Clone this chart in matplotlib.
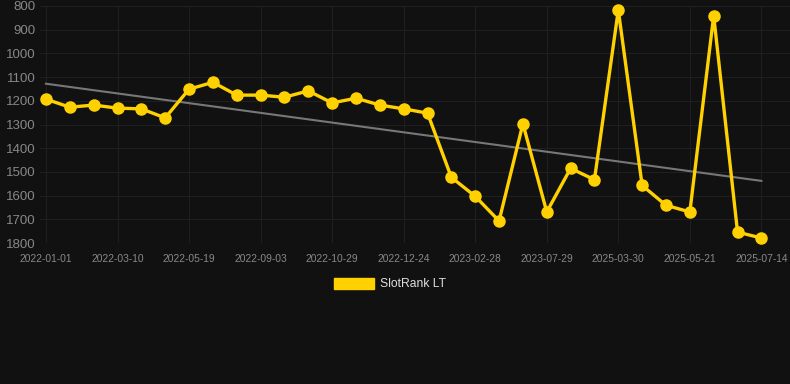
import numpy as np
import matplotlib
matplotlib.use("Agg")
import matplotlib.pyplot as plt
from matplotlib.patches import Patch

plt.rcParams['font.family'] = ['Liberation Sans', 'DejaVu Sans']

dates = ["2022-01-01", "", "", "2022-03-10", "", "", "2022-05-19", "", "",
         "2022-09-03", "", "", "2022-10-29", "", "", "2022-12-24", "", "",
         "2023-02-28", "", "", "2023-07-29", "", "", "2025-03-30", "", "",
         "2025-05-21", "", "", "2025-07-14"]
rank = [1193, 1227, 1218, 1231, 1234, 1272, 1151, 1122, 1176, 1176, 1185,
        1158, 1209, 1189, 1218, 1234, 1252, 1523, 1603, 1707, 1297, 1669,
        1485, 1533, 817, 1557, 1641, 1669, 841, 1754, 1779]
y_ticks = [800, 900, 1000, 1100, 1200, 1300, 1400, 1500, 1600, 1700, 1800]
series_name = "SlotRank LT"

bg = "#111111"
gold = "#FFD100"

fig = plt.figure(figsize=(7.9, 3.84), dpi=100, facecolor=bg)
ax = fig.add_axes([40/790, (384-243)/384, 750/790, (243-6)/384], facecolor=bg)

x = np.arange(len(rank))
coef = np.polyfit(x, rank, 1)
ax.plot(x, np.polyval(coef, x), color="#777777", lw=1.5, zorder=2)
ax.plot(x, rank, color=gold, lw=2.4, marker="o", ms=8, zorder=3, clip_on=False)

ax.set_xlim(-0.25, 31.2)
ax.set_ylim(1800, 800)
ax.set_yticks(y_ticks)
ax.set_yticklabels([str(v) for v in y_ticks], color="#888888", fontsize=9.5)
tick_idx = [i for i, d in enumerate(dates) if d]
ax.set_xticks(tick_idx)
ax.set_xticklabels([dates[i] for i in tick_idx], color="#888888", fontsize=7.4)
ax.tick_params(axis='both', length=0, pad=3)
ax.tick_params(axis='x', pad=8)
ax.grid(True, color="#1f1f1f", lw=0.8)
for s in ax.spines.values():
    s.set_visible(False)

leg = fig.legend(handles=[Patch(facecolor=gold, edgecolor=gold, label=series_name)],
                 loc="center", bbox_to_anchor=(390/790, 1 - 284/384), frameon=False,
                 fontsize=8.7, handlelength=3.3, handleheight=1.0, handletextpad=0.5)
for t in leg.get_texts():
    t.set_color("#dddddd")

fig.savefig("out.png", dpi=100, facecolor=bg)
